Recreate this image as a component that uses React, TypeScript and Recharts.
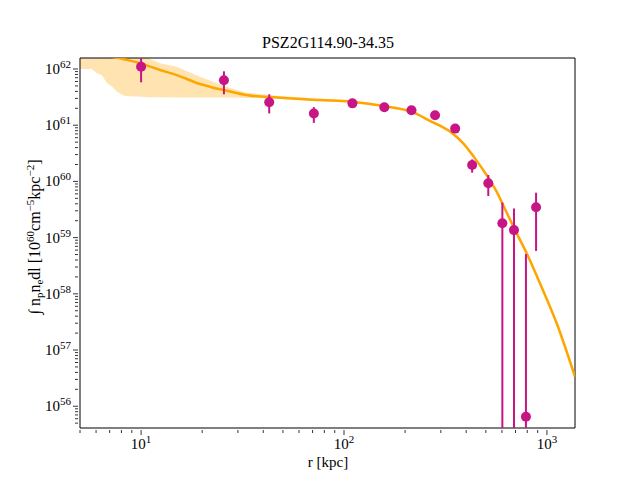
import React from "react";
import {
  ComposedChart,
  Area,
  Line,
  Scatter,
  ErrorBar,
  XAxis,
  YAxis,
  ReferenceArea,
} from "recharts";

// fitted emission-measure profile, r in kpc
const modelR = [
  5, 5.7, 6.05, 6.4, 6.8, 7.2, 7.6, 8.3, 10, 11.1, 12.4, 15, 19.5, 22, 26.5, 33,
  47, 76, 109, 157, 215, 265, 333, 387, 442, 504, 565, 633, 710, 795, 924, 1117,
  1375,
];
const modelFit = [
  1.9e62, 1.84e62, 1.8e62, 1.76e62, 1.7e62, 1.64e62, 1.58e62, 1.48e62, 1.26e62,
  1.1e62, 9.6e61, 7.8e61, 5.4e61, 4.8e61, 4.1e61, 3.45e61, 3.1e61, 2.8e61,
  2.62e61, 2.19e61, 1.74e61, 1.2e61, 7.7e60, 4.76e60, 2.57e60, 1.3e60, 6.6e59,
  2.8e59, 1.19e59, 5.25e58, 1.54e58, 2.99e57, 3.35e56,
];
const modelLow = [
  1.0e62, 1.0e62, 8.4e61, 7.8e61, 5.6e61, 4.9e61, 3.95e61, 3.3e61, 3.2e61,
  3.15e61, 3.14e61, 3.12e61, 3.1e61, 3.1e61, 3.1e61, 3.05e61, 3.0e61, 2.7e61,
  2.52e61, 2.1e61, 1.67e61, 1.14e61, 7.35e60, 4.55e60, 2.45e60, 1.24e60,
  6.3e59, 2.65e59, 1.12e59, 4.9e58, 1.43e58, 2.75e57, 3.0e56,
];
const modelHigh = [
  3e62, 3e62, 3e62, 3e62, 3e62, 3e62, 3e62, 3e62, 2.2e62, 1.5e62, 1.26e62,
  1.1e62, 7.3e61, 6.2e61, 4.8e61, 3.8e61, 3.35e61, 2.95e61, 2.72e61, 2.28e61,
  1.81e61, 1.26e61, 8.1e60, 5.0e60, 2.7e60, 1.36e60, 6.9e59, 2.95e59, 1.26e59,
  5.6e58, 1.66e58, 3.25e57, 3.75e56,
];

// measured profile with lower / upper bounds
const obsR = [10, 25.6, 42.8, 71, 110, 158, 215, 281, 353, 428, 514, 603, 688, 788, 884];
const obsVal = [
  1.1e62, 6.3e61, 2.56e61, 1.62e61, 2.45e61, 2.08e61, 1.84e61, 1.5e61, 8.7e60,
  1.96e60, 9.25e59, 1.8e59, 1.36e59, 6.5e55, 3.47e59,
];
const obsLow = [
  5.8e61, 3.55e61, 1.62e61, 1.1e61, 2.3e61, 1.95e61, 1.72e61, 1.38e61, 8.0e60,
  1.43e60, 5.5e59, 1e55, 1e55, 1e55, 5.8e58,
];
const obsHigh = [
  2.5e62, 9.1e61, 3.55e61, 2.1e61, 2.6e61, 2.2e61, 1.96e61, 1.65e61, 9.5e60,
  2.47e60, 1.3e60, 4.2e59, 3.3e59, 5.1e58, 6.3e59,
];

const xMajor = [10, 100, 1000];
const yMajor = [1e56, 1e57, 1e58, 1e59, 1e60, 1e61, 1e62];
const minorSteps = [2, 3, 4, 5, 6, 7, 8, 9];

const xDomain: [number, number] = [5, 1375];
const yDomain: [number, number] = [4.1e55, 1.57e62];

const inRange = (v: number, d: [number, number]) => v >= d[0] && v <= d[1];
const xTicks = [1, 10, 100]
  .flatMap((d) => [d, ...minorSteps.map((m) => m * d)])
  .concat(xMajor)
  .filter((v, i, a) => inRange(v, xDomain) && a.indexOf(v) === i)
  .sort((a, b) => a - b);
const yTicks = [1e55, ...yMajor]
  .flatMap((d) => [d, ...minorSteps.map((m) => m * d)])
  .filter((v) => inRange(v, yDomain))
  .sort((a, b) => a - b);

const modelRows = modelR.map((r, i) => ({
  r,
  fit: modelFit[i],
  band: [modelLow[i], modelHigh[i]],
}));
// error bars are cut at the frame, like the plot clip
const obsRows = obsR.map((r, i) => {
  const lo = Math.max(obsLow[i], yDomain[0]);
  const hi = Math.min(obsHigh[i], yDomain[1]);
  return { r, val: obsVal[i], err: [obsVal[i] - lo, hi - obsVal[i]] };
});

const SERIF = "'Liberation Serif', 'DejaVu Serif', serif";
const POINT = "#C71585";
const ORANGE = "#FFA500";

const decade = (v: number) => Math.round(Math.log10(v));
const isMajor = (v: number) => Math.abs(Math.log10(v) - decade(v)) < 1e-6;

const XTick = ({ x, y, payload }: any) => {
  const v = payload.value;
  const major = isMajor(v);
  return (
    <g>
      <line x1={x} x2={x} y1={y} y2={y + (major ? 5 : 3)} stroke="#000" strokeWidth={0.8} />
      {major && (
        <text x={x} y={y + 19} textAnchor="middle" fontSize={15} fontFamily={SERIF} fill="#000">
          10
          <tspan dy={-6} fontSize={11}>
            {decade(v)}
          </tspan>
        </text>
      )}
    </g>
  );
};

const YTick = ({ x, y, payload }: any) => {
  const v = payload.value;
  const major = isMajor(v);
  return (
    <g>
      <line x1={x} x2={x - (major ? 5 : 3)} y1={y} y2={y} stroke="#000" strokeWidth={0.8} />
      {major && (
        <text x={x - 7} y={y + 5} textAnchor="end" fontSize={15} fontFamily={SERIF} fill="#000">
          10
          <tspan dy={-6} fontSize={11}>
            {decade(v)}
          </tspan>
        </text>
      )}
    </g>
  );
};

export default function App() {
  return (
    <div style={{ position: "absolute", left: 0, top: 0, width: 640, height: 480, background: "#fff" }}>
      <ComposedChart width={640} height={480} margin={{ top: 58, right: 65, bottom: 0, left: 0 }}>
        <XAxis
          dataKey="r"
          type="number"
          scale="log"
          domain={xDomain}
          allowDataOverflow
          ticks={xTicks}
          interval={0}
          tick={<XTick />}
          tickLine={false}
          tickSize={0}
          axisLine={false}
          height={52}
        />
        <YAxis
          type="number"
          scale="log"
          domain={yDomain}
          allowDataOverflow
          ticks={yTicks}
          interval={0}
          tick={<YTick />}
          tickLine={false}
          tickSize={0}
          axisLine={false}
          width={80}
        />
        <Area
          data={modelRows}
          dataKey="band"
          type="linear"
          fill={ORANGE}
          fillOpacity={0.3}
          stroke="none"
          isAnimationActive={false}
        />
        <Line
          data={modelRows}
          dataKey="fit"
          type="monotone"
          stroke={ORANGE}
          strokeWidth={2.5}
          dot={false}
          isAnimationActive={false}
        />
        <Scatter
          data={obsRows}
          dataKey="val"
          fill={POINT}
          shape={(p: any) => <circle cx={p.cx} cy={p.cy} r={5} fill={POINT} />}
          isAnimationActive={false}
        >
          <ErrorBar dataKey="err" direction="y" width={0} stroke={POINT} strokeWidth={2} isAnimationActive={false} />
        </Scatter>
        <ReferenceArea
          x1={xDomain[0]}
          x2={xDomain[1]}
          y1={yDomain[0]}
          y2={yDomain[1]}
          fill="none"
          stroke="#000"
          strokeWidth={1}
          ifOverflow="visible"
        />
      </ComposedChart>
      <svg
        width={640}
        height={480}
        style={{ position: "absolute", left: 0, top: 0, pointerEvents: "none" }}
        fontFamily={SERIF}
        fill="#000"
      >
        <text x={328} y={48} textAnchor="middle" fontSize={16}>
          PSZ2G114.90-34.35
        </text>
        <text x={328} y={467} textAnchor="middle" fontSize={15}>
          r [kpc]
        </text>
        <text transform="translate(40 237) rotate(-90)" textAnchor="middle" fontSize={16}>
          ∫ n
          <tspan dy={3} fontSize={11}>p</tspan>
          <tspan dy={-3}>n</tspan>
          <tspan dy={3} fontSize={11}>e</tspan>
          <tspan dy={-3}>dl [10</tspan>
          <tspan dy={-6} fontSize={11}>60</tspan>
          <tspan dy={6}>cm</tspan>
          <tspan dy={-6} fontSize={11}>−5</tspan>
          <tspan dy={6}>kpc</tspan>
          <tspan dy={-6} fontSize={11}>−2</tspan>
          <tspan dy={6}>]</tspan>
        </text>
      </svg>
    </div>
  );
}
